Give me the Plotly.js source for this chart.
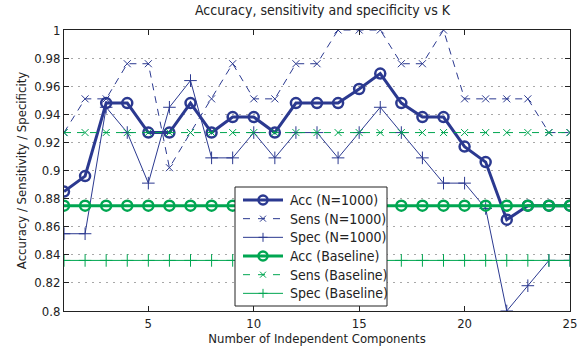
<!DOCTYPE html>
<html>
<head>
<meta charset="utf-8">
<script src="https://cdn.plot.ly/plotly-3.0.1.min.js"></script>
<style>
  html, body { margin: 0; padding: 0; background: #fff; }
  #chart { width: 579px; height: 348px; }
</style>
</head>
<body>
<div id="chart"></div>
<script>
// Number of independent components (K)
const components = [1,2,3,4,5,6,7,8,9,10,11,12,13,14,15,16,17,18,19,20,21,22,23,24,25];

// Metrics with N = 1000
const accN1000  = [0.885,0.896,0.948,0.948,0.927,0.927,0.948,0.927,0.938,0.938,0.927,0.948,0.948,0.948,0.958,0.969,0.948,0.938,0.938,0.917,0.906,0.865,0.875,0.875,0.875];
const sensN1000 = [0.927,0.951,0.951,0.976,0.976,0.902,0.927,0.951,0.976,0.951,0.951,0.976,0.976,1.000,1.000,1.000,0.976,0.976,1.000,0.951,0.951,0.951,0.951,0.927,0.927];
const specN1000 = [0.855,0.855,0.945,0.927,0.891,0.945,0.964,0.909,0.909,0.927,0.909,0.927,0.927,0.909,0.927,0.945,0.927,0.909,0.891,0.891,0.873,0.800,0.818,0.836,0.836];

// Baseline metrics (constant across K)
const accBaseline  = [0.875,0.875,0.875,0.875,0.875,0.875,0.875,0.875,0.875,0.875,0.875,0.875,0.875,0.875,0.875,0.875,0.875,0.875,0.875,0.875,0.875,0.875,0.875,0.875,0.875];
const sensBaseline = [0.927,0.927,0.927,0.927,0.927,0.927,0.927,0.927,0.927,0.927,0.927,0.927,0.927,0.927,0.927,0.927,0.927,0.927,0.927,0.927,0.927,0.927,0.927,0.927,0.927];
const specBaseline = [0.836,0.836,0.836,0.836,0.836,0.836,0.836,0.836,0.836,0.836,0.836,0.836,0.836,0.836,0.836,0.836,0.836,0.836,0.836,0.836,0.836,0.836,0.836,0.836,0.836];

const xTickVals = [5,10,15,20,25];
const yTickVals = [0.8,0.82,0.84,0.86,0.88,0.9,0.92,0.94,0.96,0.98,1];
const yTickText = ['0.8','0.82','0.84','0.86','0.88','0.9','0.92','0.94','0.96','0.98','1'];

const BLUE = '#2b3990';
const GREEN = '#00a651';
const FONT = 'DejaVu Sans Condensed, DejaVu Sans, sans-serif';

// Visual style per series: line width, dash, marker symbol, marker size, marker line width
const STYLE = {
  acc:  { width: 3, dash: 'solid',   symbol: 'circle-open',     size: 10, mlw: 2.5 },
  sens: { width: 1, dash: '7px,6px', symbol: 'x-thin-open',     size: 7,  mlw: 1 },
  spec: { width: 1, dash: 'solid',   symbol: 'cross-thin-open', size: 9,  mlw: 1 }
};

const series = [
  { name: 'Acc (N=1000)',    y: accN1000,     color: BLUE,  kind: 'acc' },
  { name: 'Sens (N=1000)',   y: sensN1000,    color: BLUE,  kind: 'sens' },
  { name: 'Spec (N=1000)',   y: specN1000,    color: BLUE,  kind: 'spec' },
  { name: 'Acc (Baseline)',  y: accBaseline,  color: GREEN, kind: 'acc' },
  { name: 'Sens (Baseline)', y: sensBaseline, color: GREEN, kind: 'sens' },
  { name: 'Spec (Baseline)', y: specBaseline, color: GREEN, kind: 'spec' }
];

const traces = series.map(s => {
  const st = STYLE[s.kind];
  return {
    name: s.name, x: components, y: s.y, mode: 'lines+markers',
    line: { color: s.color, width: st.width, dash: st.dash },
    marker: { symbol: st.symbol, size: st.size, color: s.color, line: { width: st.mlw, color: s.color } }
  };
});

// Plot area in pixels
const W = 579, H = 348;
const M = { l: 64, r: 9, t: 30, b: 37 };
const PW = W - M.l - M.r, PH = H - M.t - M.b;
const px = v => (v - M.l) / PW;          // pixel x -> paper x
const py = v => (H - M.b - v) / PH;      // pixel y -> paper y

// Legend box drawn as layout decoration (compact rows, boxed)
const LEG = { left: 235, right: 387, top: 187, bottom: 306, row0: 200, rowStep: 18.67,
              lineX0: 243, lineX1: 283, textX: 288 };
const shapes = [{
  type: 'rect', xref: 'paper', yref: 'paper', layer: 'above',
  x0: px(LEG.left), x1: px(LEG.right), y0: py(LEG.bottom), y1: py(LEG.top),
  fillcolor: '#fff', line: { color: '#222', width: 1 }
}];
const annotations = [];
series.forEach((s, i) => {
  const st = STYLE[s.kind];
  const yc = py(LEG.row0 + i * LEG.rowStep);
  shapes.push({
    type: 'line', xref: 'paper', yref: 'paper', layer: 'above',
    x0: px(LEG.lineX0), x1: px(LEG.lineX1), y0: yc, y1: yc,
    line: { color: s.color, width: st.width, dash: st.dash === 'solid' ? 'solid' : '7px,8px' }
  });
  const mk = { xref: 'paper', yref: 'paper', layer: 'above', xsizemode: 'pixel', ysizemode: 'pixel',
               xanchor: px((LEG.lineX0 + LEG.lineX1) / 2), yanchor: yc,
               line: { color: s.color, width: st.mlw }, fillcolor: 'rgba(0,0,0,0)' };
  if (s.kind === 'acc') {
    shapes.push(Object.assign({ type: 'circle', x0: -4.5, x1: 4.5, y0: -4.5, y1: 4.5 }, mk));
  } else if (s.kind === 'sens') {
    shapes.push(Object.assign({ type: 'path', path: 'M-3,-3L3,3M-3,3L3,-3' }, mk));
  } else {
    shapes.push(Object.assign({ type: 'path', path: 'M-4.5,0L4.5,0M0,-4.5L0,4.5' }, mk));
  }
  annotations.push({
    xref: 'paper', yref: 'paper', x: px(LEG.textX), y: yc, xanchor: 'left', yanchor: 'middle',
    text: s.name, showarrow: false, font: { family: FONT, size: 14, color: '#222' }
  });
});

const layout = {
  width: W, height: H,
  margin: M,
  paper_bgcolor: '#fff', plot_bgcolor: '#fff',
  font: { family: FONT, size: 13, color: '#222' },
  title: { text: 'Accuracy, sensitivity and specificity vs K', xref: 'container', x: 0.557, xanchor: 'center',
           y: 0.985, yanchor: 'top', font: { family: FONT, size: 14, color: '#222' } },
  xaxis: {
    range: [1, 25], tickvals: xTickVals, ticks: 'inside', ticklen: 5, tickcolor: '#222',
    showline: true, linecolor: '#222', linewidth: 1, mirror: 'ticks',
    showgrid: false, zeroline: false,
    title: { text: 'Number of Independent Components', standoff: 2, font: { family: FONT, size: 13 } }
  },
  yaxis: {
    range: [0.8, 1], tickvals: yTickVals, ticktext: yTickText, ticks: 'inside', ticklen: 5, tickcolor: '#222',
    showline: true, linecolor: '#222', linewidth: 1, mirror: 'ticks',
    showgrid: true, gridcolor: '#a8a8a8', griddash: '2px,5px', gridwidth: 1, zeroline: false,
    title: { text: 'Accuracy / Sensitivity / Specificity', standoff: 4, font: { family: FONT, size: 13 } }
  },
  shapes: shapes,
  annotations: annotations,
  showlegend: false
};

Plotly.newPlot('chart', traces, layout, { displayModeBar: false, staticPlot: true });
</script>
</body>
</html>
